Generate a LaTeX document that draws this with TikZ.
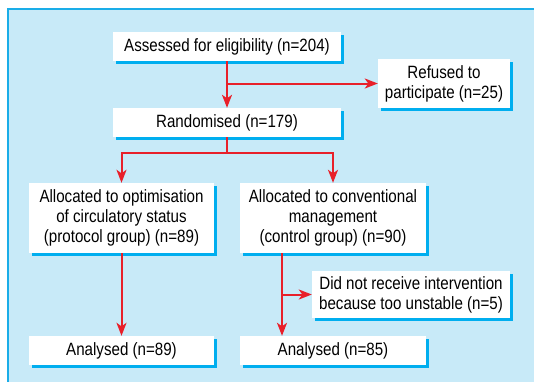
\documentclass[tikz,border=0pt]{standalone}
\usepackage{fontspec}
\setmainfont{Liberation Sans}[FakeStretch=0.85]
\usepackage{xcolor}
\usepackage{tikz}
\usetikzlibrary{arrows.meta, shadows, calc}

\definecolor{panelblue}{HTML}{C8EAF8}
\definecolor{edgeblue}{HTML}{1AADE8}
\definecolor{shadowblue}{HTML}{00AEEF}
\definecolor{flowred}{HTML}{E8202A}

\begin{document}
\begin{tikzpicture}[
    x=1pt, y=-1pt,
    box/.style={rectangle, fill=white, inner sep=0pt, align=center,
        font=\fontsize{17.8}{20}\selectfont,
        drop shadow={shadow xshift=3pt, shadow yshift=-3pt, fill=shadowblue, opacity=1}},
    arrow/.style={-{Stealth[length=13pt, width=10pt, inset=3.5pt]}, line width=2pt, color=flowred}
]

% Achtergrond
\clip (0,0) rectangle (534,381);
\draw[fill=panelblue, draw=edgeblue, line width=1.2pt] (8,9) rectangle (560,400);

% Vakken
\node[box, minimum width=228, minimum height=29] (assess)   at (227,46.5)  {Assessed for eligibility (n=204)};
\node[box, minimum width=132, minimum height=49] (refused)  at (444,83.5)  {Refused to\\participate (n=25)};
\node[box, minimum width=228, minimum height=29] (random)   at (227,122.5) {Randomised (n=179)};
\node[box, minimum width=185, minimum height=70] (protocol) at (121.5,218) {Allocated to optimisation\\of circulatory status\\(protocol group) (n=89)};
\node[box, minimum width=186, minimum height=70] (control)  at (333,218)   {Allocated to conventional\\management\\(control group) (n=90)};
\node[box, minimum width=198, minimum height=47] (unstable) at (411,294.5) {Did not receive intervention\\because too unstable (n=5)};
\node[box, minimum width=185, minimum height=29] (anaprot)  at (121.5,350.5) {Analysed (n=89)};
\node[box, minimum width=186, minimum height=29] (anactrl)  at (333,350.5) {Analysed (n=85)};

% Hulppunten
\coordinate (split) at (227,153);
\coordinate (ctrl)  at (282,0);

% Pijlen
\draw[arrow] (assess.south) -- (random.north);
\draw[arrow] (assess.south |- refused.west) -- (refused.west);
\draw[line width=2pt, color=flowred] (random.south) -- (split);
\draw[arrow] (split) -| (protocol.north);
\draw[arrow] (split) -| (control.north);
\draw[arrow] (protocol.south) -- (anaprot.north);
\draw[arrow] (ctrl |- control.south) -- (ctrl |- anactrl.north);
\draw[arrow] (ctrl |- unstable.west) -- (unstable.west);

\end{tikzpicture}
\end{document}
